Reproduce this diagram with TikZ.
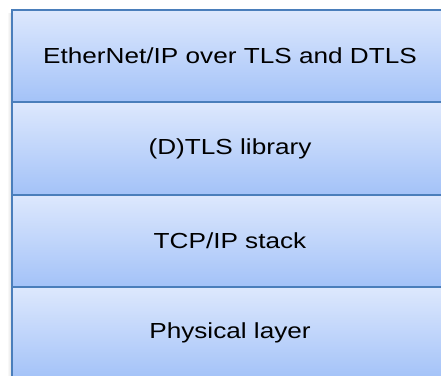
\documentclass[tikz,border=0pt]{standalone}
\usepackage{fontspec}
\newfontfamily\layerfont{Liberation Sans}[FakeStretch=1.2]
\definecolor{layertop}{HTML}{DDE8FD}
\definecolor{layerbottom}{HTML}{A3C2F8}
\definecolor{layerline}{HTML}{4A7EBB}
\tikzstyle{layer} = [rectangle, minimum width=436pt, minimum height=92.3pt, inner sep=0pt, text centered, draw=layerline, line width=2pt, top color=layertop, bottom color=layerbottom, font=\layerfont\fontsize{21.8}{26}\selectfont]
\tikzstyle{sideshadow} = [left color=white, right color=black!14]

\begin{document}
\begin{tikzpicture}[node distance=92.3pt] % una capa debajo de otra
    \useasboundingbox (0,0) rectangle (441pt,-375pt);
    \clip (0,0) rectangle (441pt,-375pt);

    % sombra a la izquierda
    \shade [sideshadow] (7pt,-13pt) rectangle (12pt,-380pt);

    \node (app) [layer] at (230pt,-56.2pt) {EtherNet/IP over TLS and DTLS};
    \node (tls) [layer, below of=app] {(D)TLS library};
    \node (tcp) [layer, below of=tls] {TCP/IP stack};
    \node (phy) [layer, below of=tcp] {Physical layer};
\end{tikzpicture}
\end{document}
